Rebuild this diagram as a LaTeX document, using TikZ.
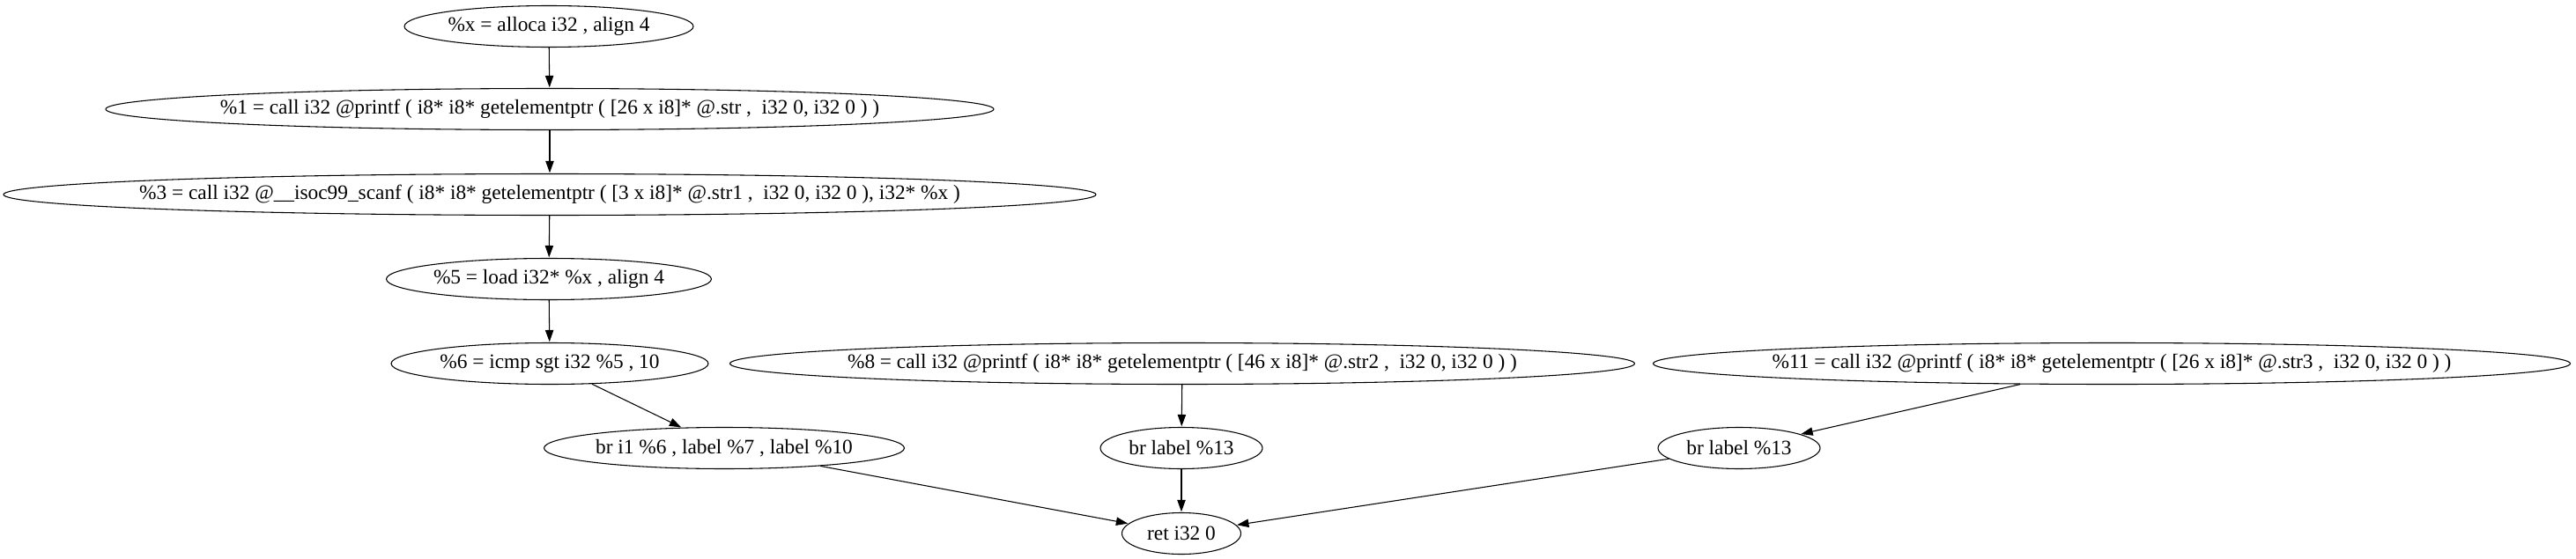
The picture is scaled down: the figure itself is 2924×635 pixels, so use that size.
\documentclass[tikz,border=0pt]{standalone}
\usepackage{fontspec}
\setmainfont{Liberation Serif}
\usetikzlibrary{shapes.geometric,arrows.meta}
\tikzset{
  ell/.style 2 args={ellipse, draw, line width=0.8pt, minimum width=#1*0.75pt, minimum height=#2*0.75pt, inner sep=0pt,
    font=\fontsize{17.5pt}{20pt}\selectfont},
  arr/.style={draw, line width=0.8pt, -{Triangle[length=10pt,width=7pt]}, shorten >=0.5pt}
}
\begin{document}
\begin{tikzpicture}[x=0.75pt,y=-0.75pt]
\useasboundingbox[fill=white] (0,0) rectangle (2924,635);
\node[ell={328}{47}] (n0) at (623,30) {\makebox[0pt]{\%x = alloca i32 , align 4}};
\node[ell={1008}{47}] (n1) at (624,124) {\makebox[0pt]{\%1 = call i32 @printf ( i8* i8* getelementptr ( [26 x i8]* @.str ,\ \ i32 0, i32 0 ) )}};
\node[ell={1240}{47}] (n2) at (624,221) {\makebox[0pt]{\%3 = call i32 @\_\_isoc99\_scanf ( i8* i8* getelementptr ( [3 x i8]* @.str1 ,\ \ i32 0, i32 0 ), i32* \%x )}};
\node[ell={369}{47}] (n3) at (623,317) {\makebox[0pt]{\%5 = load i32* \%x , align 4}};
\node[ell={360}{47}] (n4) at (624,413) {\makebox[0pt]{\%6 = icmp sgt i32 \%5 , 10}};
\node[ell={409}{47}] (n5) at (822,509) {\makebox[0pt]{br i1 \%6 , label \%7 , label \%10}};
\node[ell={1027}{47}] (n8) at (1342,413) {\makebox[0pt]{\%8 = call i32 @printf ( i8* i8* getelementptr ( [46 x i8]* @.str2 ,\ \ i32 0, i32 0 ) )}};
\node[ell={184}{47}] (n9) at (1341,509) {\makebox[0pt]{br label \%13}};
\node[ell={135}{47}] (ret) at (1341,606) {\makebox[0pt]{ret i32 0}};
\node[ell={1041}{47}] (n11) at (2397,413) {\makebox[0pt]{\%11 = call i32 @printf ( i8* i8* getelementptr ( [26 x i8]* @.str3 ,\ \ i32 0, i32 0 ) )}};
\node[ell={184}{47}] (n12) at (1974,509) {\makebox[0pt]{br label \%13}};
\draw[arr] (n0) -- (n1);
\draw[arr] (n1) -- (n2);
\draw[arr] (n2) -- (n3);
\draw[arr] (n3) -- (n4);
\draw[arr] (n4) -- (n5);
\draw[arr] (n5) -- (ret);
\draw[arr] (n8) -- (n9);
\draw[arr] (n9) -- (ret);
\draw[arr] (n11) -- (n12);
\draw[arr] (n12) -- (ret);
\end{tikzpicture}
\end{document}
